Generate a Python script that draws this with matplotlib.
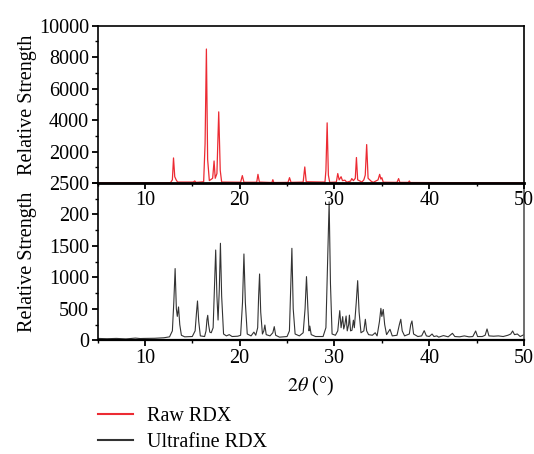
import matplotlib
matplotlib.use("Agg")
import matplotlib.pyplot as plt
from matplotlib.ticker import MultipleLocator, FixedLocator

plt.rcParams['font.family'] = ['Liberation Serif', 'DejaVu Serif']
plt.rcParams['mathtext.fontset'] = 'stix'

# Raw RDX (top panel) vertices
raw_x = [5.0, 12.7, 12.9, 13.02, 13.15, 13.3, 13.45, 15.1, 15.26, 15.4, 16.2, 16.35, 16.49, 16.62,
         16.8, 17.15, 17.3, 17.42, 17.6, 17.79, 17.95, 18.1, 20.1, 20.28, 20.45, 21.8, 21.93, 22.08,
         23.4, 23.5, 23.6, 25.1, 25.26, 25.42, 26.7, 26.87, 27.02, 29.0, 29.1, 29.23, 29.36, 29.5,
         30.2, 30.35, 30.5, 30.7, 30.85, 31.1, 31.3, 31.7, 31.83, 32.0, 32.2, 32.32, 32.45, 32.9,
         33.1, 33.25, 33.4, 33.55, 33.9, 34.1, 34.6, 34.77, 34.9, 35.0, 35.15, 36.6, 36.77, 36.9,
         37.8, 37.9, 38.0, 50.0]
raw_y = [10, 20, 200, 1593, 400, 200, 60, 60, 130, 40, 80, 2500, 8517, 1500,
         150, 300, 1400, 300, 600, 4523, 800, 60, 50, 470, 50, 50, 550, 60,
         30, 210, 30, 40, 340, 40, 60, 1020, 80, 60, 800, 3823, 500, 40,
         60, 600, 200, 400, 150, 180, 50, 120, 280, 150, 300, 1620, 200, 60,
         200, 500, 2443, 300, 100, 40, 200, 550, 250, 340, 50, 40, 280, 40,
         40, 130, 30, 10]

# Ultrafine RDX (bottom panel) vertices
uf_x = [5.0, 6.0, 7.0, 8.0, 9.0, 9.5, 10.0, 11.0, 12.0, 12.6, 12.9, 13.05, 13.19, 13.32, 13.42,
        13.55, 13.68, 13.85, 14.2, 15.0, 15.3, 15.45, 15.55, 15.68, 15.85, 16.3, 16.45, 16.55,
        16.63, 16.72, 16.85, 17.0, 17.2, 17.35, 17.47, 17.6, 17.72, 17.85, 17.97, 18.1, 18.3,
        18.6, 18.9, 19.2, 19.8, 20.1, 20.3, 20.45, 20.6, 20.8, 21.2, 21.5, 21.7, 21.9, 22.0,
        22.1, 22.22, 22.4, 22.55, 22.66, 22.8, 23.2, 23.5, 23.65, 23.8, 24.2, 25.0, 25.25, 25.4,
        25.51, 25.65, 25.85, 26.3, 26.7, 26.9, 27.05, 27.2, 27.32, 27.4, 27.55, 28.0, 28.8,
        29.1, 29.3, 29.44, 29.58, 29.75, 30.1, 30.35, 30.56, 30.7, 30.87, 30.98, 31.1, 31.23,
        31.35, 31.5, 31.58, 31.7, 31.85, 32.0, 32.1, 32.3, 32.45, 32.6, 32.8, 33.1, 33.26, 33.4,
        33.6, 34.0, 34.3, 34.5, 34.75, 34.9, 35.0, 35.15, 35.3, 35.5, 35.86, 36.1, 36.6, 36.85,
        37.0, 37.15, 37.4, 37.9, 38.05, 38.18, 38.35, 38.8, 39.2, 39.47, 39.7, 40.0, 40.3, 40.5,
        40.8, 41.0, 41.5, 42.0, 42.45, 42.7, 43.2, 43.7, 44.2, 44.6, 44.9, 45.1, 45.6, 45.9,
        46.1, 46.3, 46.8, 47.3, 47.8, 48.3, 48.6, 48.8, 49.0, 49.3, 49.6, 50.0]
uf_y = [30, 25, 30, 22, 35, 28, 30, 32, 40, 55, 150, 600, 1140, 500, 380,
        530, 250, 80, 55, 60, 150, 450, 625, 300, 70, 60, 150, 330,
        397, 250, 130, 120, 200, 900, 1435, 700, 322, 800, 1542, 700, 100,
        70, 90, 60, 65, 80, 600, 1372, 600, 100, 70, 130, 80, 200, 700,
        1054, 450, 100, 150, 243, 90, 70, 120, 217, 80, 50, 60, 150, 900,
        1462, 500, 100, 70, 120, 500, 1012, 500, 150, 226, 90, 60, 60,
        200, 1400, 2200, 900, 100, 80, 150, 471, 200, 376, 180, 250, 386,
        150, 250, 400, 150, 160, 320, 200, 600, 948, 450, 120, 150, 334, 150,
        90, 80, 120, 70, 300, 508, 380, 490, 250, 90, 175, 70, 80, 250,
        334, 150, 70, 100, 250, 307, 100, 60, 70, 153, 70, 60, 100, 60,
        70, 50, 75, 55, 111, 60, 55, 70, 55, 60, 148, 60, 60, 80,
        180, 70, 65, 70, 60, 80, 100, 148, 90, 100, 60, 90]

x_ticks = [10, 20, 30, 40, 50]
top_yticks = [0, 2000, 4000, 6000, 8000, 10000]
top_ylabels = ["", "2000", "4000", "6000", "8000", "10000"]
bot_yticks = [0, 500, 1000, 1500, 2000, 2500]
bot_ylabels = ["0", "500", "1000", "1500", "200", "2500"]

W, H = 534, 454
fig = plt.figure(figsize=(W / 100, H / 100), dpi=100)
L, R = 97.5, 524
ax_bot = fig.add_axes([L / W, (H - 340.3) / H, (R - L) / W, (340.3 - 183) / H])
ax_top = fig.add_axes([L / W, (H - 183) / H, (R - L) / W, (183 - 25.7) / H])
ax_bot.patch.set_visible(False)
ax_top.patch.set_visible(False)
ax_top.set_zorder(3)
ax_bot.set_zorder(2)

fs = 14.5
l1, = ax_top.plot(raw_x, raw_y, color='#ec2b33', lw=0.9, label='Raw RDX')
l2, = ax_bot.plot(uf_x, uf_y, color='#333333', lw=0.8, label='Ultrafine RDX')

for ax in (ax_top, ax_bot):
    ax.set_xlim(5, 50)
    ax.xaxis.set_major_locator(FixedLocator(x_ticks))
    ax.xaxis.set_minor_locator(MultipleLocator(5))
    ax.tick_params(axis='both', which='major', direction='out', length=4, width=1.3,
                   labelsize=fs, pad=2, colors='black')
    ax.tick_params(axis='both', which='minor', direction='out', length=2.5, width=1.0)
    ax.tick_params(axis='x', which='both', top=False)
    ax.tick_params(axis='y', which='both', right=False)
    for s in ax.spines.values():
        s.set_linewidth(1.2)
    ax.set_ylabel('Relative Strength', fontsize=fs)
    ax.yaxis.set_label_coords(-0.142, 0.5)

ax_top.set_ylim(0, 10000)
ax_top.set_yticks(top_yticks)
ax_top.set_yticklabels(top_ylabels)
ax_top.yaxis.set_minor_locator(MultipleLocator(1000))
ax_top.spines['bottom'].set_linewidth(2.0)

ax_bot.set_ylim(0, 2500)
ax_bot.set_yticks(bot_yticks)
ax_bot.set_yticklabels(bot_ylabels)
ax_bot.yaxis.set_minor_locator(MultipleLocator(250))
ax_bot.spines['top'].set_visible(False)
ax_bot.spines['right'].set_color('#555555')
ax_bot.spines['bottom'].set_linewidth(1.6)
ax_bot.set_xlabel(r'$2\mathit{\theta}$ (°)', fontsize=fs, labelpad=5)

leg = fig.legend(handles=[l1, l2], loc='upper left', bbox_to_anchor=(98 / W, 1 - 407 / H),
                 frameon=False, fontsize=fs, handlelength=1.75, handletextpad=0.7,
                 labelspacing=0.35, borderpad=0, borderaxespad=0)
for h in leg.legend_handles:
    h.set_linewidth(1.5)

fig.savefig('out.png', dpi=100)
